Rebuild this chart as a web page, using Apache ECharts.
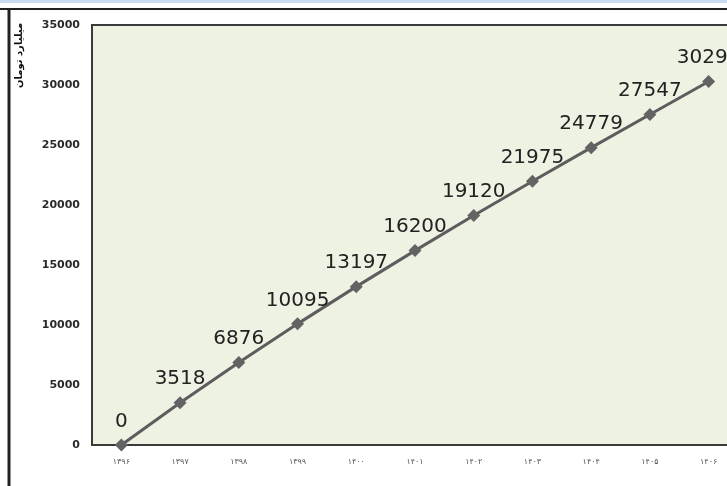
<!DOCTYPE html>
<html><head><meta charset="utf-8">
<script src="https://cdn.jsdelivr.net/npm/echarts@6/dist/echarts.min.js"></script>
<style>html,body{margin:0;padding:0;background:#fff}#c{width:727px;height:486px}</style>
</head><body><div id="c"></div>
<script>
const categories = ['۱۳۹۶','۱۳۹۷','۱۳۹۸','۱۳۹۹','۱۴۰۰','۱۴۰۱','۱۴۰۲','۱۴۰۳','۱۴۰۴','۱۴۰۵','۱۴۰۶'];
const values = [0, 3518, 6876, 10095, 13197, 16200, 19120, 21975, 24779, 27547, 30290];
const yAxisName = 'میلیارد تومان';

const chart = echarts.init(document.getElementById('c'), null, {renderer:'canvas'});
chart.setOption({
  animation: false,
  backgroundColor: '#ffffff',
  grid: {left: 92, top: 25, right: -11, bottom: 41, outerBoundsMode: 'none', containLabel: false,
    show: true, backgroundColor: '#eef2e2', borderColor: '#3a3a3a', borderWidth: 2},
  xAxis: {
    type: 'category', data: categories, boundaryGap: true,
    axisLine: {show: false}, axisTick: {show: false},
    axisLabel: {fontSize: 8, color: '#555', margin: 13, fontFamily: 'DejaVu Sans', interval: 0},
    splitLine: {show: false}
  },
  yAxis: {
    type: 'value', min: 0, max: 35000, interval: 5000,
    axisLine: {show: false}, axisTick: {show: false}, splitLine: {show: false},
    axisLabel: {fontSize: 11, fontWeight: 'bold', color: '#2a2a2a', margin: 12, fontFamily: 'DejaVu Sans',
      formatter: function (v) { return String(v); }}
  },
  graphic: [
    {type: 'rect', shape: {x: 0, y: 0, width: 727, height: 3}, style: {fill: '#c9dcf0'}, silent: true},
    {type: 'line', shape: {x1: 0, y1: 9, x2: 727, y2: 9}, style: {stroke: '#222', lineWidth: 2}, silent: true},
    {type: 'line', shape: {x1: 9, y1: 9, x2: 9, y2: 486}, style: {stroke: '#222', lineWidth: 3}, silent: true},
    {type: 'text', x: 14, y: 88, rotation: Math.PI / 2,
     style: {text: yAxisName, fontSize: 10, fontWeight: 'bold', fill: '#111', fontFamily: 'DejaVu Sans', align: 'left', verticalAlign: 'top'}, silent: true}
  ],
  series: [{
    type: 'line', data: values,
    symbol: 'diamond', symbolSize: 13,
    lineStyle: {color: '#5d5d5d', width: 3},
    itemStyle: {color: '#636363'},
    label: {show: true, position: 'top', distance: 7, fontSize: 20, color: '#222', fontFamily: 'DejaVu Sans'}
  }]
});
</script></body></html>
